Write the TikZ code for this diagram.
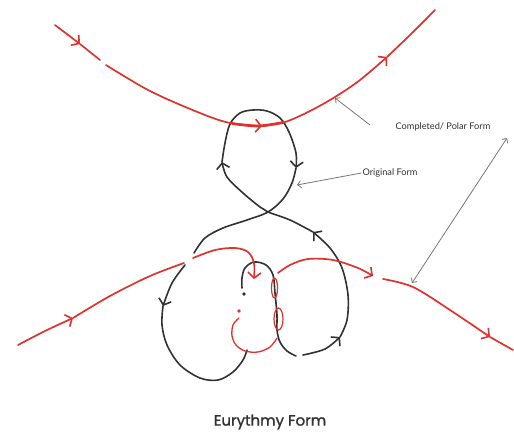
\documentclass[tikz,border=0pt]{standalone}
\usepackage{fontspec}
\usetikzlibrary{arrows.meta}
\newfontfamily\titlefont[FakeBold=1.2]{Poppins}
\newfontfamily\notefont{Lato}
\definecolor{penred}{RGB}{222,50,46}
\definecolor{penblack}{RGB}{50,50,50}
\definecolor{annot}{RGB}{120,120,120}
\tikzset{
  barb/.tip={Straight Barb[length=5.5pt,width=13pt,line width=1.6pt]},
  thinbarb/.tip={Straight Barb[length=3.5pt,width=7pt]},
  redpen/.style={draw=penred,line width=1.7pt,line cap=round,line join=round},
  blackpen/.style={draw=penblack,line width=1.6pt,line cap=round,line join=round},
  sm/.style={smooth,tension=0.55},
  annotline/.style={draw=annot,line width=0.8pt},
  notetext/.style={font=\notefont\fontsize{9.2}{10}\selectfont,text=penblack,inner sep=1pt},
}
\begin{document}
\begin{tikzpicture}[x=1pt,y=-1pt]
\useasboundingbox[fill=white] (0,0) rectangle (514,437);

% ---- black figure-eight form ----
\draw[blackpen,-barb] plot[sm] coordinates {(303,355) (325,349) (340,337)};
\draw[blackpen,-barb] plot[sm] coordinates {(340,337) (347,320) (348,295) (342,268) (330,248) (313,232)};
\draw[blackpen,-barb] plot[sm] coordinates {(313,232) (290,220) (268,212) (260,207) (243,193) (227,177) (222,162)};
\draw[blackpen,-barb] plot[sm] coordinates {(222,162) (225,143) (230,124) (240,113) (253,110) (267,111) (280,118) (289,132) (296,153) (296,168)};
\draw[blackpen] plot[sm] coordinates {(296,168) (292,183) (283,199) (268,212) (247,220) (223,228) (205,238) (194,253)};
\draw[blackpen,-barb] plot[sm] coordinates {(185,265) (172,283) (163,306)};
\draw[blackpen] plot[sm] coordinates {(163,306) (162,325) (167,345) (180,365) (200,378) (218,380) (233,372) (243,360) (247,350)};
\draw[blackpen] plot[sm] coordinates {(296,356) (287,351) (280,342) (277,330) (277,315) (275,293) (273,275) (266,265) (254,262) (245,268) (242,278) (242,288)};
\fill[penblack] (244,294) circle (1.8);

% ---- red polar form ----
\draw[redpen,-barb] (55,25) -- (80,44);
\draw[redpen] (80,44) -- (100,60);
\draw[redpen,-barb] plot[sm] coordinates {(106,65) (150,91) (200,113) (230,123) (262,126)};
\draw[redpen,-barb] plot[sm] coordinates {(262,126) (285,122) (310,111) (335,97) (360,80) (387,57)};
\draw[redpen] plot[sm] coordinates {(387,57) (410,35) (435,10)};
\draw[draw=penred,line width=2.7pt,line cap=round] plot[sm] coordinates {(232,123.5) (258,126) (283,122.5)};

\draw[redpen,-barb] plot[sm] coordinates {(18,345) (45,331) (73,318)};
\draw[redpen] plot[sm] coordinates {(73,318) (110,296) (150,276) (184,263)};
\draw[redpen,-barb] plot[sm] coordinates {(193,258) (215,250) (235,248) (248,252) (254,263) (254,279)};
\draw[redpen,-barb] plot[sm] coordinates {(278,273) (290,265) (308,259) (333,260) (358,268) (373,276)};
\draw[redpen,-barb] plot[sm] coordinates {(383,279) (413,287) (450,310) (490,337)};
\draw[redpen] (490,337) -- (513,350);

\fill[penred] (239,311) circle (1.9);
\draw[redpen,line width=1.3pt] plot[sm] coordinates {(239,318) (233,325) (232,336) (236,345) (245,351) (258,352) (270,347) (277,338)};
\draw[redpen,line width=1.2pt] (274.5,288) ellipse (3 and 10);
\draw[redpen,line width=1.2pt] (278.5,319) ellipse (4.5 and 11);

% ---- annotations ----
\node[notetext] (polar) at (443,127) {Completed/ Polar Form};
\node[notetext] (orig) at (390,173) {Original Form};
\coordinate (polarStart) at (370,125);
\coordinate (polarTip) at (335,98);
\coordinate (origTip) at (297,185);
\coordinate (dblTop) at (507,138);
\coordinate (dblBot) at (412,283);
\draw[annotline,-thinbarb] (polarStart) -- (polarTip);
\draw[annotline,-thinbarb] (orig.west) -- (origTip);
\draw[annotline,thinbarb-thinbarb] (dblBot) -- (dblTop);

\node[font=\titlefont\fontsize{15}{17}\selectfont,text=penblack,inner sep=0pt] (title) at (270,422) {Eurythmy Form};
\end{tikzpicture}
\end{document}
